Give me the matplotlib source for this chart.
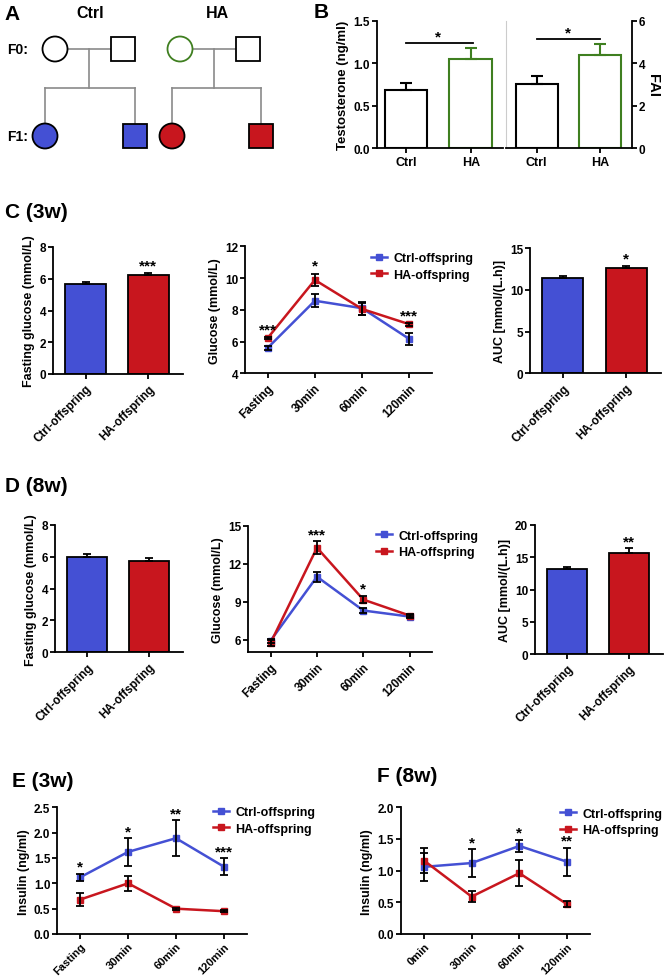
import numpy as np
import matplotlib
matplotlib.use("Agg")
import matplotlib.pyplot as plt
from matplotlib.patches import Circle, Rectangle

# ---- datos ----
groups_b = ["Ctrl", "HA"]
testo = [0.69, 1.05]
testo_err = [0.08, 0.13]
fai = [3.02, 4.38]
fai_err = [0.36, 0.52]

groups = ["Ctrl-offspring", "HA-offspring"]
times_ogtt = ["Fasting", "30min", "60min", "120min"]
times_f = ["0min", "30min", "60min", "120min"]

# C (3w)
c_fast = [5.64, 6.25]
c_fast_err = [0.15, 0.09]
c_ctrl = [5.60, 8.57, 8.10, 6.16]
c_ctrl_err = [0.15, 0.42, 0.40, 0.37]
c_ha = [6.22, 9.88, 8.05, 7.09]
c_ha_err = [0.08, 0.40, 0.35, 0.08]
c_auc = [11.43, 12.59]
c_auc_err = [0.20, 0.30]
c_stars = ["***", "*", "", "***"]

# D (8w)
d_fast = [6.01, 5.72]
d_fast_err = [0.17, 0.20]
d_ctrl = [5.92, 10.97, 8.30, 7.82]
d_ctrl_err = [0.15, 0.40, 0.20, 0.15]
d_ha = [5.74, 13.26, 9.16, 7.90]
d_ha_err = [0.25, 0.50, 0.30, 0.12]
d_auc = [13.2, 15.7]
d_auc_err = [0.25, 0.70]
d_stars = ["", "***", "*", ""]

# E (3w) insulina
e_ctrl = [1.12, 1.62, 1.89, 1.33]
e_ctrl_err = [0.07, 0.27, 0.35, 0.16]
e_ha = [0.68, 1.00, 0.50, 0.45]
e_ha_err = [0.12, 0.15, 0.02, 0.02]
e_stars = ["*", "*", "**", "***"]

# F (8w) insulina
f_ctrl = [1.06, 1.12, 1.39, 1.14]
f_ctrl_err = [0.22, 0.22, 0.10, 0.22]
f_ha = [1.16, 0.59, 0.96, 0.47]
f_ha_err = [0.20, 0.09, 0.21, 0.05]
f_stars = ["", "*", "*", "**"]

# ---- estilo ----
plt.rcParams['font.family'] = ['Liberation Sans', 'DejaVu Sans']
plt.rcParams['font.weight'] = 'bold'
plt.rcParams['axes.labelweight'] = 'bold'
plt.rcParams['axes.linewidth'] = 1.3
plt.rcParams['xtick.major.width'] = 1.3
plt.rcParams['ytick.major.width'] = 1.3
plt.rcParams['xtick.major.size'] = 3.5
plt.rcParams['ytick.major.size'] = 3.5
plt.rcParams['xtick.major.pad'] = 2.5
plt.rcParams['ytick.major.pad'] = 1.5
plt.rcParams['xtick.labelsize'] = 8.5
plt.rcParams['ytick.labelsize'] = 8.5
plt.rcParams['axes.labelsize'] = 9
plt.rcParams['axes.labelpad'] = 3

BLUE = '#4450d4'
RED = '#c8161e'
GREEN = '#3f7f20'
W, H = 664, 979
STAR = 11

fig = plt.figure(figsize=(W / 100, H / 100), dpi=100)


def add_ax(l, t, r, b):
    return fig.add_axes([l / W, 1 - b / H, (r - l) / W, (b - t) / H])


def clean(ax):
    ax.spines['top'].set_visible(False)
    ax.spines['right'].set_visible(False)


def bar_panel(ax, vals, errs, ylim, ticks, ylabel, star, ymax_pad):
    x = np.arange(len(vals))
    ax.bar(x, vals, width=0.65, color=[BLUE, RED], edgecolor='black', linewidth=1.3, zorder=2)
    ax.errorbar(x, vals, yerr=[np.zeros(len(vals)), errs], fmt='none', ecolor='black',
                elinewidth=1.3, capsize=3, capthick=1.3, zorder=3)
    ax.set_xlim(-0.52, 1.55)
    ax.set_ylim(*ylim)
    ax.set_yticks(ticks)
    ax.set_xticks(x)
    ax.set_xticklabels(groups, rotation=45, ha='right', rotation_mode='anchor')
    ax.set_ylabel(ylabel)
    if star:
        ax.text(1, vals[1] + errs[1] + ymax_pad, star, ha='center', va='bottom', fontsize=STAR)
    clean(ax)


def line_panel(ax, labels, ctrl, ctrl_err, ha, ha_err, ylim, ticks, ylabel, stars, pad, leg_px,
               xsize=8.5):
    x = np.arange(len(labels))
    ax.plot(x, ctrl, color=BLUE, lw=1.8, marker='s', ms=4.5, label='Ctrl-offspring', zorder=2)
    ax.plot(x, ha, color=RED, lw=1.8, marker='s', ms=4.5, label='HA-offspring', zorder=2)
    ax.errorbar(x, ctrl, yerr=ctrl_err, fmt='none', ecolor='black', elinewidth=1.3,
                capsize=3, capthick=1.3, zorder=3)
    ax.errorbar(x, ha, yerr=ha_err, fmt='none', ecolor='black', elinewidth=1.3,
                capsize=3, capthick=1.3, zorder=3)
    tops = np.maximum(np.array(ctrl) + ctrl_err, np.array(ha) + ha_err)
    for xi, s, t in zip(x, stars, tops):
        if s:
            ax.text(xi, t + pad, s, ha='center', va='bottom', fontsize=STAR)
    ax.set_xlim(-0.48, 3.48)
    ax.set_ylim(*ylim)
    ax.set_yticks(ticks)
    ax.set_xticks(x)
    ax.set_xticklabels(labels, rotation=45, ha='right', rotation_mode='anchor', fontsize=xsize)
    ax.set_ylabel(ylabel)
    clean(ax)
    lx, ly = leg_px
    ax.legend(loc='center left', bbox_to_anchor=(lx / W, 1 - ly / H),
              bbox_transform=fig.transFigure, frameon=False, fontsize=9,
              handlelength=1.3, handletextpad=0.5, labelspacing=0.35,
              borderpad=0, borderaxespad=0)


# ---- A: pedigree ----
axa = fig.add_axes([0, 1 - 160 / H, 330 / W, 160 / H])
axa.set_xlim(0, 330)
axa.set_ylim(160, 0)
axa.axis('off')
gray = '#8a8a8a'
for cx, sx, vx, lx, rx, ccol, fcol in [(55, 123, 89, 45, 135, 'black', BLUE),
                                       (180, 248, 214, 172, 261, GREEN, RED)]:
    axa.plot([cx + 12, sx - 12], [50, 50], color=gray, lw=1.2)
    axa.plot([vx, vx], [50, 89], color=gray, lw=1.2)
    axa.plot([lx, rx], [89, 89], color=gray, lw=1.2)
    axa.plot([lx, lx], [89, 125], color=gray, lw=1.2)
    axa.plot([rx, rx], [89, 125], color=gray, lw=1.2)
    axa.add_patch(Circle((cx, 50), 12.5, facecolor='white', edgecolor=ccol, lw=1.3, zorder=3))
    axa.add_patch(Rectangle((sx - 12, 38), 24, 24, facecolor='white', edgecolor='black', lw=1.3, zorder=3))
    axa.add_patch(Circle((lx, 137), 12.5, facecolor=fcol, edgecolor='black', lw=1.3, zorder=3))
    axa.add_patch(Rectangle((rx - 12, 125), 24, 24, facecolor=fcol, edgecolor='black', lw=1.3, zorder=3))
axa.text(4, 14, 'A', fontsize=15, va='center', ha='left')
axa.text(90, 14, 'Ctrl', fontsize=11.5, va='center', ha='center')
axa.text(217, 14, 'HA', fontsize=11.5, va='center', ha='center')
axa.text(7, 50, 'F0:', fontsize=10, va='center', ha='left')
axa.text(7, 137, 'F1:', fontsize=10, va='center', ha='left')

# ---- B: testosterona / FAI ----
fig.text(314 / W, 1 - 13 / H, 'B', fontsize=15, va='center', ha='left')
axb1 = add_ax(377, 22, 503, 149)
xb = np.arange(2)
axb1.bar(xb, testo, width=0.66, color='white', edgecolor=['black', GREEN], linewidth=1.5, zorder=2)
for i in range(2):
    axb1.errorbar(xb[i], testo[i], yerr=[[0], [testo_err[i]]], fmt='none',
                  ecolor=['black', GREEN][i], elinewidth=1.5, capsize=4, capthick=1.5)
axb1.set_xlim(-0.45, 1.5)
axb1.set_ylim(0, 1.5)
axb1.set_yticks([0, 0.5, 1.0, 1.5])
axb1.set_yticklabels(['0.0', '0.5', '1.0', '1.5'])
axb1.set_xticks(xb)
axb1.set_xticklabels(groups_b, fontsize=9)
axb1.set_ylabel('Testosterone (ng/ml)', fontsize=9.5)
axb1.plot([0, 1.03], [1.245, 1.245], color='black', lw=1.3)
axb1.text(0.5, 1.24, '*', ha='center', va='bottom', fontsize=STAR)
clean(axb1)

axb2 = add_ax(506, 22, 632, 149)
axb2.bar(xb, fai, width=0.66, color='white', edgecolor=['black', GREEN], linewidth=1.5, zorder=2)
for i in range(2):
    axb2.errorbar(xb[i], fai[i], yerr=[[0], [fai_err[i]]], fmt='none',
                  ecolor=['black', GREEN][i], elinewidth=1.5, capsize=4, capthick=1.5)
axb2.set_xlim(-0.48, 1.5)
axb2.set_ylim(0, 6)
axb2.set_yticks([0, 2, 4, 6])
axb2.set_xticks(xb)
axb2.set_xticklabels(groups_b, fontsize=9)
axb2.yaxis.tick_right()
axb2.spines['top'].set_visible(False)
axb2.spines['left'].set_color('#cccccc')
axb2.spines['left'].set_linewidth(0.8)
axb2.plot([0, 1], [5.14, 5.14], color='black', lw=1.3)
axb2.text(0.5, 5.12, '*', ha='center', va='bottom', fontsize=STAR)
fig.text(653 / W, 1 - 85 / H, 'FAI', rotation=270, ha='center', va='center', fontsize=10.5)

# ---- C ----
fig.text(5 / W, 1 - 212 / H, 'C (3w)', fontsize=15, va='center', ha='left')
ax = add_ax(53, 248, 183, 375)
bar_panel(ax, c_fast, c_fast_err, (0, 8), [0, 2, 4, 6, 8], 'Fasting glucose (mmol/L)', '***', 0.05)
ax = add_ax(245, 247.3, 432, 374.3)
line_panel(ax, times_ogtt, c_ctrl, c_ctrl_err, c_ha, c_ha_err, (4, 12), [4, 6, 8, 10, 12],
           'Glucose (mmol/L)', c_stars, 0.05, (371, 267.5))
ax = add_ax(530, 249, 661, 374.3)
bar_panel(ax, c_auc, c_auc_err, (0, 15), [0, 5, 10, 15], 'AUC [mmol/(L.h)]', '*', 0.05)

# ---- D ----
fig.text(5 / W, 1 - 487 / H, 'D (8w)', fontsize=15, va='center', ha='left')
ax = add_ax(55, 526, 183, 653.3)
bar_panel(ax, d_fast, d_fast_err, (0, 8), [0, 2, 4, 6, 8], 'Fasting glucose (mmol/L)', '', 0.05)
ax = add_ax(248.3, 526.7, 432, 653.3)
line_panel(ax, times_ogtt, d_ctrl, d_ctrl_err, d_ha, d_ha_err, (5, 15), [6, 9, 12, 15],
           'Glucose (mmol/L)', d_stars, 0.02, (376, 545))
ax = add_ax(535, 526, 663, 655)
bar_panel(ax, d_auc, d_auc_err, (0, 20), [0, 5, 10, 15, 20], 'AUC [mmol/(L.h)]', '**', 0.02)

# ---- E ----
fig.text(12 / W, 1 - 782 / H, 'E (3w)', fontsize=15, va='center', ha='left')
ax = add_ax(57.3, 808.3, 246.7, 935)
line_panel(ax, times_ogtt, e_ctrl, e_ctrl_err, e_ha, e_ha_err, (0, 2.5),
           [0, 0.5, 1.0, 1.5, 2.0, 2.5], 'Insulin (ng/ml)', e_stars, 0.0, (213, 821.5), xsize=8)
ax.set_yticklabels(['0.0', '0.5', '1.0', '1.5', '2.0', '2.5'])
ax.tick_params(axis='x', pad=1.5)

# ---- F ----
fig.text(377 / W, 1 - 777 / H, 'F (8w)', fontsize=15, va='center', ha='left')
ax = add_ax(401, 808.3, 590, 935)
line_panel(ax, times_f, f_ctrl, f_ctrl_err, f_ha, f_ha_err, (0, 2.0),
           [0, 0.5, 1.0, 1.5, 2.0], 'Insulin (ng/ml)', f_stars, 0.0, (560, 823), xsize=8)
ax.set_yticklabels(['0.0', '0.5', '1.0', '1.5', '2.0'])
ax.tick_params(axis='x', pad=1.5)

fig.savefig('out.png', dpi=100)
